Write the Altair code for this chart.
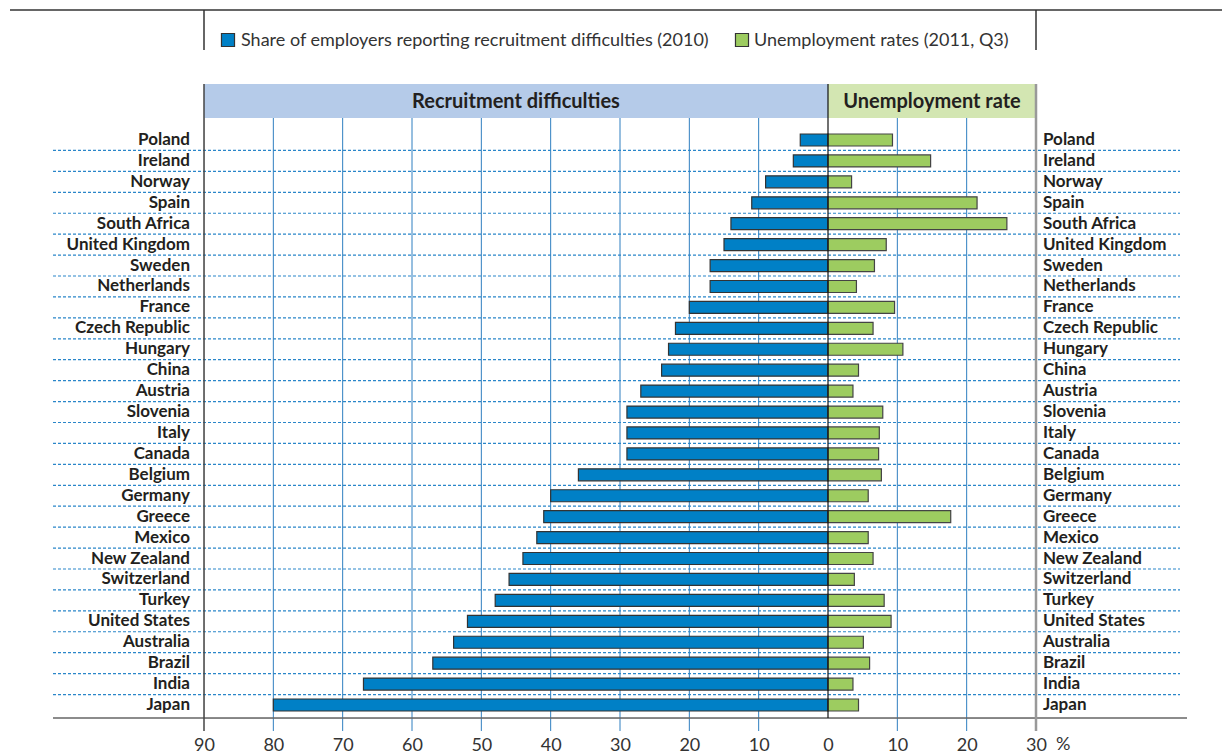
import altair as alt
import pandas as pd

countries = ["Poland", "Ireland", "Norway", "Spain", "South Africa", "United Kingdom",
             "Sweden", "Netherlands", "France", "Czech Republic", "Hungary", "China",
             "Austria", "Slovenia", "Italy", "Canada", "Belgium", "Germany", "Greece",
             "Mexico", "New Zealand", "Switzerland", "Turkey", "United States",
             "Australia", "Brazil", "India", "Japan"]
recruitment = [4, 5, 9, 11, 14, 15, 17, 17, 20, 22, 23, 24, 27, 29, 29, 29, 36, 40, 41,
               42, 44, 46, 48, 52, 54, 57, 67, 80]
unemployment = [9.3, 14.8, 3.4, 21.5, 25.8, 8.4, 6.7, 4.1, 9.6, 6.5, 10.8, 4.4, 3.6, 7.9,
                7.4, 7.3, 7.7, 5.8, 17.7, 5.8, 6.5, 3.8, 8.1, 9.1, 5.1, 6.0, 3.6, 4.4]
tick_values = [-90, -80, -70, -60, -50, -40, -30, -20, -10, 0, 10, 20, 30]
grid_values = [-80, -70, -60, -50, -40, -30, -20, -10, 10, 20]
headers = ["Recruitment difficulties", "Unemployment rate"]
header_start = [-90, 0]
header_end = [0, 30]
header_colors = ["#b5cbe9", "#d3e6b2"]
legend_labels = ["Share of employers reporting recruitment difficulties (2010)",
                 "Unemployment rates (2011, Q3)"]
bar_colors = ["#0080c6", "#9dcc60"]

W, H = 832, 634
TXT = "#231f20"
NARROW = "Liberation Sans Narrow, Lato, sans-serif"
LABF = "Lato, sans-serif"

df = pd.DataFrame({
    "country": countries,
    "idx": list(range(len(countries))),
    "recruit": [-v for v in recruitment],
    "unemp": unemployment,
})
hdr = pd.DataFrame({"label": headers, "x0": header_start, "x1": header_end,
                    "color": header_colors})
hdr["mid"] = (hdr["x0"] + hdr["x1"]) / 2
grid = pd.DataFrame({"v": grid_values})
one = pd.DataFrame({"a": [0]})

xaxis = alt.Axis(values=tick_values, labelExpr="abs(datum.value)", title=None,
                 domain=False, ticks=False, grid=False, labelPadding=18,
                 labelFontSize=18, labelFont=NARROW, labelColor="#333333",
                 labelFlush=False, labelOverlap=False)
xscale = alt.Scale(domain=[-90, 30], nice=False, zero=False, padding=0)
yscale = alt.Scale(domain=[-2.676, 27.621], reverse=True, nice=False, zero=False,
                   padding=0)


def X(field=None, datum=None):
    if datum is not None:
        return alt.X(datum=datum, type="quantitative", scale=xscale, axis=xaxis)
    return alt.X(field, type="quantitative", scale=xscale, axis=xaxis)


def Y(field):
    return alt.Y(field, type="quantitative", scale=yscale, axis=None)


header_rect = alt.Chart(hdr).mark_rect().encode(
    x=X("x0"), x2="x1", y=alt.value(0), y2=alt.value(34),
    color=alt.Color("color:N", scale=None))
header_text = alt.Chart(hdr).mark_text(font=NARROW, fontSize=20, fontWeight="bold",
                                       color=TXT).encode(
    x=X("mid"), y=alt.value(18), text="label:N")

grid_rules = alt.Chart(grid).mark_rule(color="#2f7fc0", strokeWidth=1).encode(
    x=X("v"), y=alt.value(34), y2=alt.value(647))
left_border = alt.Chart(one).mark_rule(color="#444444", strokeWidth=1.5).encode(
    x=X(datum=-90), y=alt.value(0), y2=alt.value(647))
right_border = alt.Chart(one).mark_rule(color="#999999", strokeWidth=2.5).encode(
    x=X(datum=30), y=alt.value(0), y2=alt.value(647))

seps = alt.Chart(df).transform_filter("datum.idx < 27").transform_calculate(
    sep="datum.idx + 0.5").mark_rule(color="#2a86c9", strokeWidth=1.2,
                                     strokeDash=[3, 2]).encode(
    y=Y("sep"), x=alt.value(-151), x2=alt.value(976))
bottom_line = alt.Chart(one).mark_rule(color="#666666", strokeWidth=1.6).encode(
    y=alt.value(H), x=alt.value(-151), x2=alt.value(983))

bars_r = alt.Chart(df).mark_bar(size=12, color=bar_colors[0], stroke="#333333",
                                strokeWidth=1.2).encode(
    x=X("recruit"), x2=alt.X2(datum=0), y=Y("idx"))
bars_u = alt.Chart(df).mark_bar(size=12, color=bar_colors[1], stroke="#444444",
                                strokeWidth=1.2).encode(
    x=X("unemp"), x2=alt.X2(datum=0), y=Y("idx"))
zero_line = alt.Chart(one).mark_rule(color="#111111", strokeWidth=1.2).encode(
    x=X(datum=0), y=alt.value(0), y2=alt.value(H))

lab_left = alt.Chart(df).mark_text(align="right", baseline="middle", font=LABF,
                                   fontSize=17, fontWeight="bold", color=TXT).encode(
    x=alt.value(-14), y=Y("idx"), text="country:N")
lab_right = alt.Chart(df).mark_text(align="left", baseline="middle", font=LABF,
                                    fontSize=17, fontWeight="bold", color=TXT).encode(
    x=alt.value(839), y=Y("idx"), text="country:N")

top_line = alt.Chart(one).mark_rule(color="#666666", strokeWidth=2).encode(
    y=alt.value(-74), x=alt.value(-194), x2=alt.value(1026))
leg_lines = alt.Chart(pd.DataFrame({"v": [-90, 30]})).mark_rule(
    color="#333333", strokeWidth=1.5).encode(x=X("v"), y=alt.value(-74), y2=alt.value(-34))

leg = pd.DataFrame({"label": legend_labels, "color": bar_colors,
                    "sx": [24, 538], "tx": [37, 550]})
leg_sq = alt.Chart(leg).mark_square(size=170, filled=True, opacity=1, stroke="#333333",
                                    strokeWidth=1.2).encode(
    x=alt.X("sx:Q", scale=None), y=alt.value(-44), color=alt.Color("color:N", scale=None))
leg_txt = alt.Chart(leg).mark_text(align="left", baseline="middle", font=NARROW,
                                   fontSize=18, color="#333333").encode(
    x=alt.X("tx:Q", scale=None), y=alt.value(-43), text="label:N")
pct = alt.Chart(pd.DataFrame({"t": ["%"]})).mark_text(
    align="left", baseline="middle", font=NARROW, fontSize=18, color="#333333").encode(
    x=alt.value(852), y=alt.value(H + 27), text="t:N")

chart = alt.layer(
    header_rect, grid_rules, seps, bottom_line, bars_r, bars_u, left_border,
    right_border, zero_line, header_text, lab_left, lab_right, top_line, leg_lines,
    leg_sq, leg_txt, pct
).properties(
    width=W, height=H,
    autosize=alt.AutoSizeParams(type="none"),
    padding={"left": 196, "top": 76, "right": 186, "bottom": 40},
).configure_view(stroke=None).configure(background="white")

chart.save("out.html", embed_options={"renderer": "svg", "actions": False})
